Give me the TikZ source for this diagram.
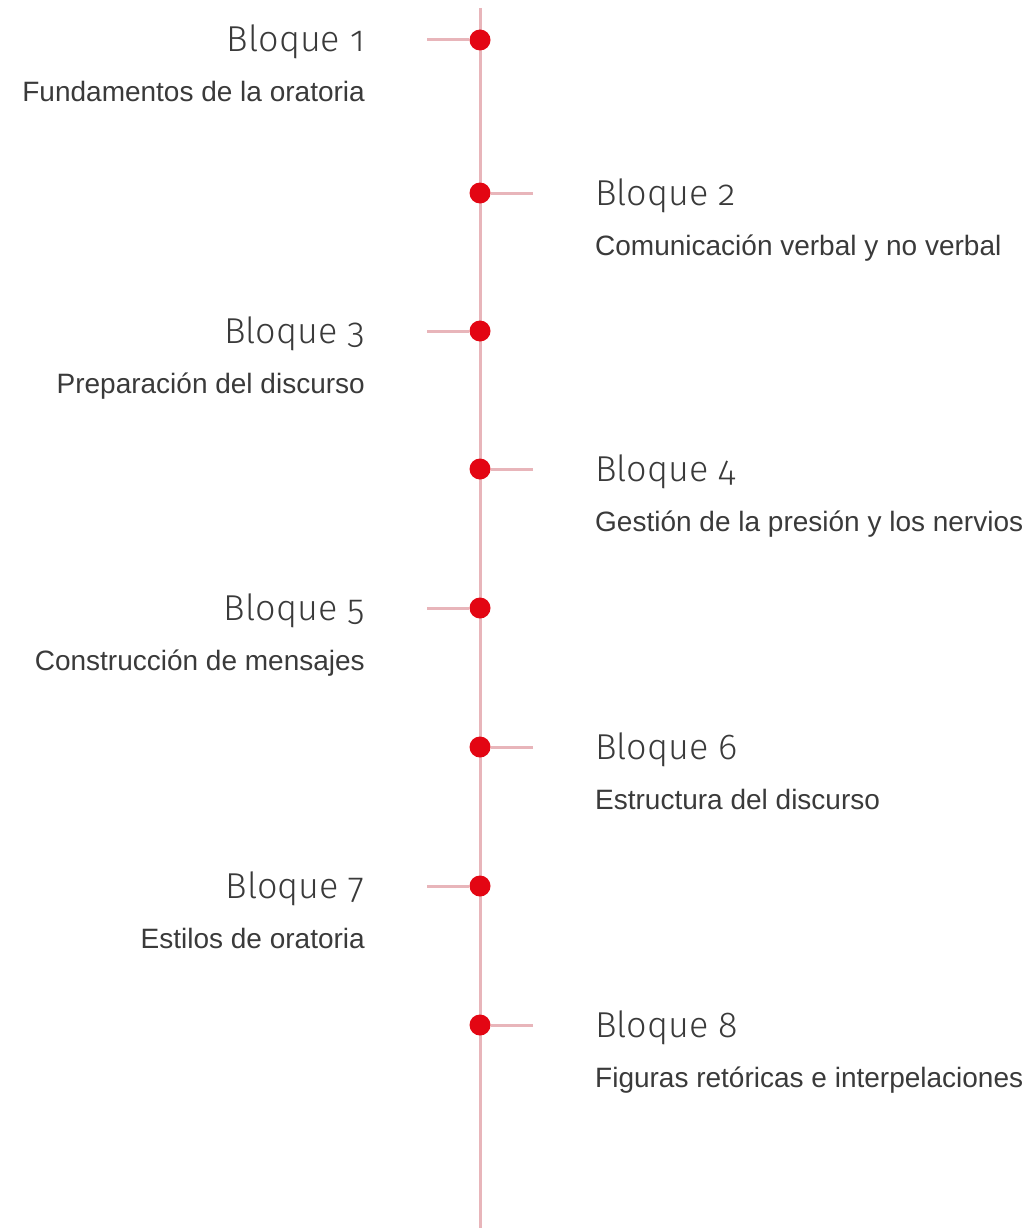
\documentclass[tikz,border=0pt]{standalone}
\usepackage{fontspec}
\setmainfont{Liberation Sans}
\newfontfamily\titlefont[Numbers=OldStyle]{Fira Sans Light}
\definecolor{linec}{HTML}{E8B5BA}
\definecolor{dotc}{HTML}{E30613}
\definecolor{txt}{HTML}{3A3A3A}
\tikzset{
  ttl/.style={inner sep=0pt, text=txt, font=\titlefont\fontsize{36}{40}\selectfont},
  sub/.style={inner sep=0pt, text=txt, font=\fontsize{28}{32}\selectfont},
  tick/.style={draw=linec, line width=3pt},
  dotn/.style={circle, fill=dotc, minimum size=21pt, inner sep=0pt},
}
\begin{document}
\begin{tikzpicture}[x=1pt,y=-1pt]
\useasboundingbox (0,0) rectangle (1030,1228);
\coordinate (top) at (480,8);
\coordinate (bot) at (480,1228);
\draw[tick] (top) -- (bot);
\foreach \i/\y/\side/\t/\s in {
 1/40/L/Bloque 1/Fundamentos de la oratoria,
 2/193/R/Bloque 2/Comunicación verbal y no verbal,
 3/331/L/Bloque 3/Preparación del discurso,
 4/469/R/Bloque 4/Gestión de la presión y los nervios,
 5/608/L/Bloque 5/Construcción de mensajes,
 6/747/R/Bloque 6/Estructura del discurso,
 7/886/L/Bloque 7/Estilos de oratoria,
 8/1025/R/Bloque 8/Figuras retóricas e interpelaciones}{
  \if\side L
    \coordinate (e\i) at (427,\y);
    \node[ttl, anchor=base east] (t\i) at (365,\y+12) {\t};
    \node[sub, anchor=base east] (s\i) at (365,\y+62) {\s};
  \else
    \coordinate (e\i) at (533,\y);
    \node[ttl, anchor=base west] (t\i) at (595,\y+12) {\t};
    \node[sub, anchor=base west] (s\i) at (595,\y+62) {\s};
  \fi
  \node[dotn] (d\i) at (480,\y) {};
  \draw[tick] (e\i) -- (d\i);
}
\end{tikzpicture}
\end{document}
